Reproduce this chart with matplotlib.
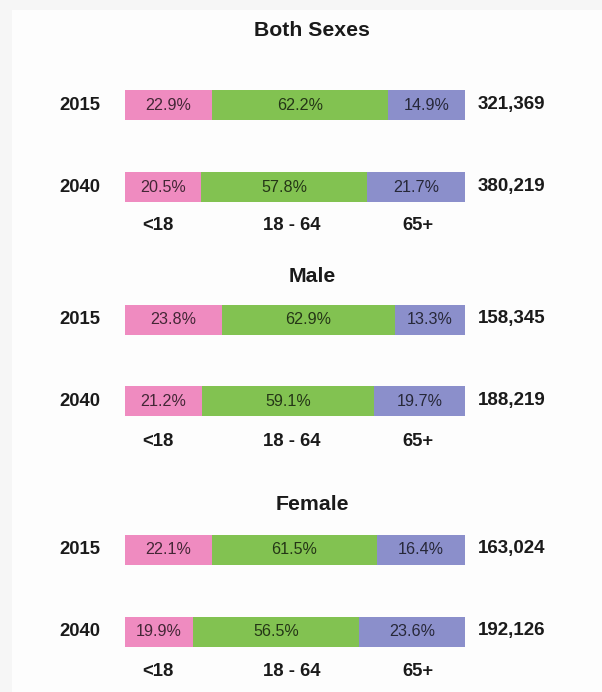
import matplotlib
matplotlib.use('Agg')
import matplotlib.pyplot as plt
from matplotlib.patches import Rectangle
from matplotlib.transforms import blended_transform_factory

plt.rcParams['font.family'] = ['Liberation Sans', 'DejaVu Sans']

groups = ['Both Sexes', 'Male', 'Female']
years = ['2015', '2040']
age_groups = ['<18', '18 - 64', '65+']

# labelled shares, in bar order: both 2015, both 2040, male 2015, male 2040, female 2015, female 2040
pct_under18 = [22.9, 20.5, 23.8, 21.2, 22.1, 19.9]
pct_18_64 = [62.2, 57.8, 62.9, 59.1, 61.5, 56.5]
pct_65plus = [14.9, 21.7, 13.3, 19.7, 16.4, 23.6]
totals = [321369, 380219, 158345, 188219, 163024, 192126]

# the reference does not draw the segments to scale: lengths (% of bar)
drawn_under18 = [25.6, 22.4, 28.5, 22.6, 25.6, 20.0]
drawn_18_64 = [51.8, 48.8, 50.9, 50.6, 48.5, 48.8]
drawn_65plus = [22.6, 28.8, 20.6, 26.8, 25.9, 31.2]

colors = ['#ef8bc0', '#82c251', '#8b8fcb']

W, H = 602, 692
fig = plt.figure(figsize=(W / 100, H / 100), dpi=100)
fig.patch.set_facecolor('#f6f6f6')
fig.add_artist(Rectangle((12 / W, 0), 1 - 12 / W, 1 - 10 / H, transform=fig.transFigure,
                         facecolor='#fdfdfd', edgecolor='none', zorder=0))

# axes spans the bars horizontally, whole figure vertically (y in pixel rows)
ax = fig.add_axes([125 / W, 0, 340 / W, 1])
ax.set_xlim(0, 100)
ax.set_ylim(H, 0)
ax.axis('off')
ax.patch.set_alpha(0)

row_y = [105, 187, 320, 401, 550, 632]
title_y = [31, 276, 505]
cat_y = [226, 441, 671]
bar_h = 30

fx = blended_transform_factory(fig.transFigure, ax.transData)

segments = list(zip(drawn_under18, drawn_18_64, drawn_65plus))
labels = list(zip(pct_under18, pct_18_64, pct_65plus))

for i, y in enumerate(row_y):
    left = 0
    for k in range(3):
        w = segments[i][k]
        ax.barh(y, w, left=left, height=bar_h, color=colors[k], edgecolor='none')
        ax.text(left + w / 2, y, f'{labels[i][k]:.1f}%', ha='center', va='center',
                fontsize=11.6, color='black', alpha=0.72)
        left += w
    ax.text(80 / W, y, years[i % 2], transform=fx, ha='center', va='center',
            fontsize=13.3, fontweight='bold', color='#1a1a1a')
    ax.text(478 / W, y - 1, f'{totals[i]:,}', transform=fx, ha='left', va='center',
            fontsize=13.5, fontweight='bold', color='#1a1a1a')

for g, ty, cy in zip(groups, title_y, cat_y):
    ax.text(312 / W, ty, g, transform=fx, ha='center', va='center',
            fontsize=15.3, fontweight='bold', color='#1a1a1a')
    for name, cx in zip(age_groups, [158, 291.5, 418]):
        ax.text(cx / W, cy, name, transform=fx, ha='center', va='center',
                fontsize=13.3, fontweight='bold', color='#1a1a1a')

fig.savefig('out.png', dpi=100, facecolor=fig.get_facecolor())
